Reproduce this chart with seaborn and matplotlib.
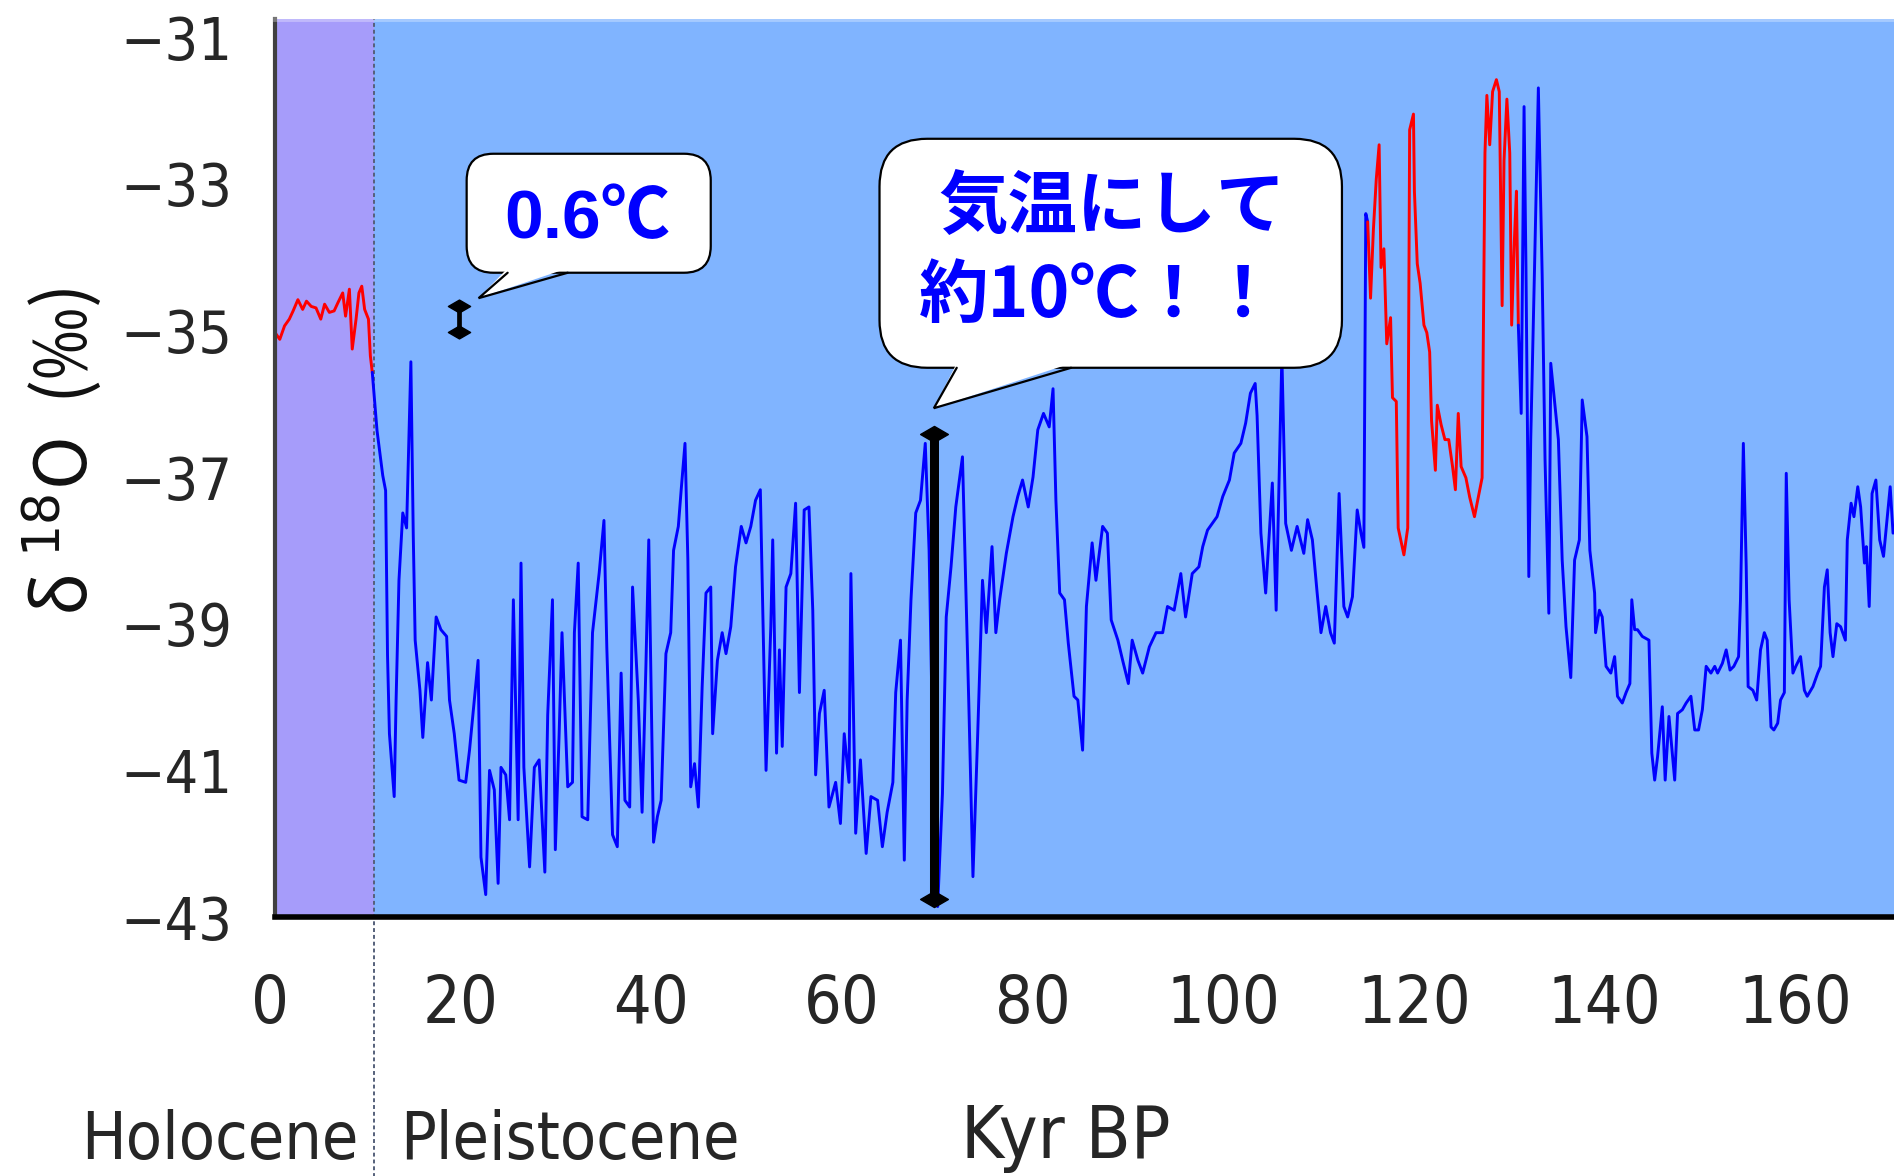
import numpy as np
import pandas as pd
import seaborn as sns
import matplotlib
matplotlib.use("Agg")
import matplotlib.pyplot as plt
import matplotlib.transforms as mtransforms
from matplotlib import font_manager as fm
from matplotlib.patches import FancyBboxPatch, Polygon
from matplotlib.lines import Line2D
from matplotlib.path import Path

# ------------------------------------------------------------------ data
# (age in kyr BP, delta-18O in permil)
holocene = [(0.0, -35.19), (0.5, -35.28), (1.0, -35.10), (1.5, -35.01), (1.9, -34.90),
            (2.4, -34.75), (2.9, -34.88), (3.3, -34.77), (3.8, -34.84), (4.3, -34.86),
            (4.8, -35.01), (5.2, -34.81), (5.7, -34.92), (6.2, -34.90), (6.6, -34.79),
            (7.1, -34.66), (7.4, -34.97), (7.8, -34.61), (8.1, -35.41), (8.5, -35.01),
            (8.8, -34.66), (9.1, -34.57), (9.4, -34.88), (9.8, -35.01), (10.0, -35.50),
            (10.2, -35.72)]

glacial_a = [(10.2, -35.72), (10.7, -36.50), (11.0, -36.80), (11.3, -37.10), (11.6, -37.30),
             (11.8, -39.50), (12.0, -40.55), (12.5, -41.39), (12.7, -40.10), (13.0, -38.50),
             (13.4, -37.60), (13.8, -37.80), (14.25, -35.58), (14.5, -37.90), (14.7, -39.30),
             (15.2, -39.97), (15.5, -40.60), (16.0, -39.60), (16.4, -40.10), (16.9, -38.99),
             (17.4, -39.16), (18.0, -39.25), (18.3, -40.10), (18.8, -40.55), (19.3, -41.17),
             (20.0, -41.20), (20.4, -40.77), (20.9, -40.10), (21.3, -39.57), (21.6, -42.20),
             (22.1, -42.70), (22.5, -41.04), (23.0, -41.30), (23.4, -42.55), (23.7, -41.00),
             (24.2, -41.10), (24.6, -41.70), (25.0, -38.76), (25.5, -41.70), (25.8, -38.27),
             (26.1, -41.00), (26.7, -42.33), (27.2, -41.00), (27.7, -40.90), (28.3, -42.40),
             (28.6, -40.30), (29.1, -38.76), (29.4, -42.10), (29.8, -40.55), (30.1, -39.20),
             (30.7, -41.26), (31.2, -41.20), (31.4, -39.20), (31.8, -38.27), (32.2, -41.66),
             (32.8, -41.70), (33.3, -39.20), (34.0, -38.40), (34.5, -37.70), (34.8, -39.40),
             (35.4, -41.90), (35.9, -42.06), (36.3, -39.74), (36.7, -41.44), (37.2, -41.53),
             (37.5, -38.59), (38.1, -40.10), (38.5, -41.60), (38.9, -39.65), (39.2, -37.96),
             (39.7, -42.00), (40.1, -41.66), (40.5, -41.44), (41.0, -39.48), (41.5, -39.20),
             (41.8, -38.10), (42.3, -37.78), (42.6, -37.29), (43.0, -36.67), (43.3, -38.23),
             (43.6, -41.26), (44.0, -40.95), (44.4, -41.53), (44.8, -39.92), (45.2, -38.67),
             (45.7, -38.59), (45.9, -40.55), (46.4, -39.57), (46.9, -39.20), (47.3, -39.48),
             (47.8, -39.12), (48.3, -38.32), (48.9, -37.78), (49.4, -38.00), (49.9, -37.78),
             (50.4, -37.43), (50.9, -37.29), (51.2, -39.20), (51.5, -41.04), (52.0, -39.12),
             (52.2, -37.96), (52.6, -40.81), (52.9, -39.43), (53.2, -40.72), (53.6, -38.59),
             (54.1, -38.41), (54.6, -37.47), (55.0, -40.00), (55.5, -37.56), (56.0, -37.52),
             (56.4, -38.90), (56.7, -41.10), (57.1, -40.28), (57.6, -39.97), (58.1, -41.53),
             (58.8, -41.20), (59.3, -41.75), (59.7, -40.55), (60.2, -41.20), (60.4, -38.41),
             (60.9, -41.88), (61.4, -40.90), (62.0, -42.15), (62.5, -41.39), (63.2, -41.44),
             (63.7, -42.06), (64.2, -41.60), (64.8, -41.20), (65.1, -40.00), (65.6, -39.30),
             (66.0, -42.24), (66.3, -40.10), (66.7, -38.76), (67.2, -37.60), (67.7, -37.43),
             (68.2, -36.67), (68.6, -38.10), (69.1, -41.50), (69.5, -42.86), (70.0, -41.35),
             (70.4, -38.99), (70.9, -38.32), (71.4, -37.52), (72.1, -36.85), (72.4, -38.32),
             (72.8, -40.32), (73.2, -42.46), (73.7, -40.55), (74.2, -38.50), (74.6, -39.20),
             (75.2, -38.05), (75.6, -39.20), (76.0, -38.76), (76.7, -38.14), (77.4, -37.65),
             (77.9, -37.38), (78.4, -37.16), (79.0, -37.52), (79.5, -37.12), (80.0, -36.49),
             (80.6, -36.27), (81.2, -36.45), (81.6, -35.94), (81.9, -37.43), (82.3, -38.67),
             (82.8, -38.76), (83.2, -39.34), (83.8, -40.05), (84.2, -40.10), (84.7, -40.77),
             (85.1, -38.85), (85.7, -38.00), (86.1, -38.50), (86.8, -37.78), (87.3, -37.87),
             (87.7, -39.03), (88.4, -39.30), (88.9, -39.57), (89.5, -39.88), (89.9, -39.30),
             (90.5, -39.57), (91.0, -39.74), (91.7, -39.39), (92.4, -39.20), (93.1, -39.20),
             (93.6, -38.85), (94.3, -38.90), (95.0, -38.41), (95.5, -38.99), (96.2, -38.41),
             (96.9, -38.32), (97.3, -38.05), (97.8, -37.83), (98.3, -37.74), (98.8, -37.65),
             (99.4, -37.38), (100.1, -37.16), (100.6, -36.80), (101.3, -36.67), (101.8, -36.40),
             (102.3, -36.00), (102.8, -35.87), (103.0, -36.30), (103.4, -37.87), (103.9, -38.67),
             (104.6, -37.20), (105.0, -38.90), (105.6, -35.50), (106.0, -37.74), (106.6, -38.10),
             (107.2, -37.78), (107.9, -38.14), (108.3, -37.69), (108.8, -37.96), (109.3, -38.67),
             (109.7, -39.20), (110.2, -38.85), (110.7, -39.20), (111.1, -39.34), (111.6, -37.34),
             (112.1, -38.85), (112.5, -38.99), (113.0, -38.72), (113.5, -37.56), (113.9, -37.87),
             (114.2, -38.06), (114.4, -33.60), (114.6, -33.71)]

eemian = [(114.6, -33.71), (114.9, -34.73), (115.2, -33.81), (115.5, -33.14), (115.8, -32.68),
          (116.0, -34.32), (116.3, -34.07), (116.6, -35.34), (117.0, -34.99), (117.2, -36.06),
          (117.6, -36.11), (117.8, -37.80), (118.4, -38.16), (118.8, -37.80), (119.0, -32.48),
          (119.4, -32.27), (119.5, -33.30), (119.8, -34.27), (120.1, -34.53), (120.5, -35.09),
          (120.8, -35.19), (121.1, -35.45), (121.3, -36.37), (121.7, -37.03), (121.9, -36.16),
          (122.3, -36.42), (122.7, -36.62), (123.1, -36.62), (123.5, -36.98), (123.8, -37.29),
          (124.1, -36.27), (124.4, -36.98), (124.9, -37.13), (125.3, -37.39), (125.8, -37.65),
          (126.2, -37.39), (126.6, -37.13), (126.9, -32.79), (127.1, -32.02), (127.4, -32.68),
          (127.7, -31.97), (128.1, -31.81), (128.4, -31.97), (128.7, -34.83), (128.9, -32.89),
          (129.2, -32.07), (129.5, -32.79), (129.7, -35.09), (130.0, -33.91), (130.2, -33.30),
          (130.4, -35.09)]

glacial_b = [(130.4, -35.09), (130.7, -36.27), (131.0, -32.17), (131.2, -34.32), (131.5, -38.45),
             (131.7, -36.62), (132.1, -34.32), (132.5, -31.92), (132.9, -34.42), (133.2, -36.88),
             (133.6, -38.94), (133.8, -35.60), (134.2, -36.11), (134.6, -36.62), (135.0, -38.23),
             (135.4, -39.12), (135.9, -39.80), (136.3, -38.23), (136.8, -37.96), (137.1, -36.09),
             (137.6, -36.58), (137.9, -38.10), (138.4, -38.67), (138.5, -39.20), (138.9, -38.90),
             (139.2, -38.99), (139.6, -39.65), (140.1, -39.74), (140.5, -39.52), (140.8, -40.05),
             (141.3, -40.14), (141.7, -40.00), (142.1, -39.88), (142.3, -38.76), (142.6, -39.16),
             (142.9, -39.16), (143.4, -39.25), (144.1, -39.30), (144.4, -40.81), (144.7, -41.17),
             (145.0, -40.86), (145.5, -40.19), (145.8, -41.17), (146.2, -40.32), (146.8, -41.17),
             (147.1, -40.28), (147.6, -40.23), (148.0, -40.14), (148.5, -40.05), (148.9, -40.50),
             (149.3, -40.50), (149.7, -40.23), (150.1, -39.65), (150.6, -39.74), (151.0, -39.65),
             (151.3, -39.74), (151.8, -39.61), (152.2, -39.43), (152.6, -39.70), (153.0, -39.65),
             (153.5, -39.52), (153.7, -38.76), (154.0, -36.67), (154.3, -38.32), (154.5, -39.92),
             (155.0, -39.97), (155.4, -40.10), (155.8, -39.43), (156.2, -39.20), (156.5, -39.30),
             (156.9, -40.46), (157.2, -40.50), (157.6, -40.41), (157.9, -40.10), (158.3, -40.00),
             (158.5, -37.07), (158.8, -38.76), (159.2, -39.74), (159.5, -39.65), (160.0, -39.52),
             (160.4, -39.97), (160.7, -40.05), (161.3, -39.92), (161.8, -39.74), (162.1, -39.65),
             (162.5, -38.59), (162.8, -38.36), (163.1, -39.20), (163.4, -39.52), (163.8, -39.08),
             (164.2, -39.12), (164.7, -39.30), (164.9, -37.96), (165.3, -37.47), (165.6, -37.65),
             (166.0, -37.25), (166.3, -37.52), (166.7, -38.27), (166.9, -38.05), (167.2, -38.85),
             (167.5, -37.34), (167.9, -37.16), (168.3, -37.96), (168.7, -38.18), (169.0, -37.78),
             (169.4, -37.25), (169.7, -37.87)]

segment_colors = {"Holocene": "#FF0000", "Glacial A": "#0000FF",
                  "Eemian": "#FF0000", "Glacial B": "#0000FF"}

x_ticks = [0, 20, 40, 60, 80, 100, 120, 140, 160]
x_tick_labels = ["0", "20", "40", "60", "80", "100", "120", "140", "160"]
y_ticks = [-43, -41, -39, -37, -35, -33, -31]
y_tick_labels = ["\u221243", "\u221241", "\u221239", "\u221237", "\u221235", "\u221233", "\u221231"]

HOLOCENE_END = 10.4          # kyr, Holocene / Pleistocene boundary
X_MAX = 169.8

# annotation geometry (data units)
small_arrow = dict(x=19.25, top=-34.84, bottom=-35.18)
big_arrow = dict(x=69.1, top=-36.54, bottom=-42.76)
small_bubble = dict(x0=20.1, x1=45.7, y0=-34.39, y1=-32.80, r=2.8,
                    base_l=24.4, base_r=30.7, tip=(21.35, -34.73))
big_bubble = dict(x0=63.4, x1=111.9, y0=-35.66, y1=-32.60, r=5.0,
                  base_l=71.5, base_r=83.5, tip=(69.1, -36.20))

# ------------------------------------------------------------------ fonts
sns.set_style("white")
avail = {f.name for f in fm.fontManager.ttflist}
cond_dejavu = any(f.name == "DejaVu Sans" and str(f.stretch) in ("condensed", "semi-condensed")
                  for f in fm.fontManager.ttflist)
if "Liberation Sans Narrow" in avail:
    NARROW = dict(family="Liberation Sans Narrow")
    fs_scale = 1.0
elif cond_dejavu:
    NARROW = dict(family="DejaVu Sans", stretch="condensed")
    fs_scale = 0.85
else:
    NARROW = dict(family="DejaVu Sans")
    fs_scale = 0.75
plt.rcParams["font.family"] = ["DejaVu Sans", "Noto Sans CJK JP"]

# ------------------------------------------------------------------ figure
W, H = 1894, 1176
fig = plt.figure(figsize=(W / 100, H / 100), dpi=100)
ax_rect = [0.1452, 0.2202, 0.8548, 0.7636]
ax = fig.add_axes(ax_rect)

frames = []
for name, seg in [("Holocene", holocene), ("Glacial A", glacial_a),
                  ("Eemian", eemian), ("Glacial B", glacial_b)]:
    d = pd.DataFrame(seg, columns=["kyr", "d18o"])
    d["segment"] = name
    frames.append(d)
df = pd.concat(frames, ignore_index=True)

ax.set_facecolor("#80B4FF")
ax.axvspan(0, HOLOCENE_END, color="#A69CFA", lw=0, zorder=0)

sns.lineplot(data=df, x="kyr", y="d18o", hue="segment", palette=segment_colors,
             estimator=None, sort=False, legend=False, lw=2.1, ax=ax, zorder=2)

ax.set_xlim(0, X_MAX)
ax.set_ylim(-43, -31)
ax.set_xlabel("")
ax.set_ylabel("")

# boundary dashed line, continuing below the axes
blend = mtransforms.blended_transform_factory(ax.transData, ax.transAxes)
ax.add_line(Line2D([HOLOCENE_END, HOLOCENE_END], [-0.30, 1.0], transform=blend,
                   color="#55607a", lw=1.4, ls=(0, (2, 1.5)), clip_on=False, zorder=1.5))

# spines
ax.spines["right"].set_visible(False)
ax.spines["top"].set_color((1, 1, 1, 0.3))
ax.spines["top"].set_linewidth(3.5)
ax.spines["left"].set_color("#404040")
ax.spines["left"].set_linewidth(3.0)
ax.spines["bottom"].set_color("black")
ax.spines["bottom"].set_linewidth(4.0)
ax.spines["bottom"].set_zorder(6)

ax.set_xticks(x_ticks, x_tick_labels, fontsize=56 * fs_scale, **NARROW)
ax.set_yticks(y_ticks, y_tick_labels, fontsize=50 * fs_scale, **NARROW)
ax.tick_params(axis="x", direction="in", length=14, width=2.2, color="#1f2f4f", pad=40)
ax.tick_params(axis="y", direction="in", length=13.5, width=2.8, color="#2b2b45", pad=31)
ax.grid(False)

# the reference tick labels sit slightly below their ticks, more so toward the top
for val, lab in zip(y_ticks, ax.get_yticklabels()):
    dy = -(val + 43) / 12.0 * 18.0 / 100.0
    lab.set_transform(lab.get_transform() + mtransforms.ScaledTranslation(0, dy, fig.dpi_scale_trans))
for lab in ax.get_xticklabels():
    lab.set_transform(lab.get_transform() + mtransforms.ScaledTranslation(-0.05, 0, fig.dpi_scale_trans))

# y axis title
fig.text(0.033, 0.6156, "\u03b4 $^{18}$O  (\u2030)", rotation=90, ha="center", va="center",
         fontsize=52, family=["Noto Sans CJK JP", "DejaVu Sans"], color="#111111")

# bottom labels
fig.text(0.1163, 0.0145, "Holocene", ha="center", va="baseline", fontsize=56 * fs_scale, **NARROW)
fig.text(0.3007, 0.0145, "Pleistocene", ha="center", va="baseline", fontsize=56 * fs_scale, **NARROW)
fig.text(0.5627, 0.0150, "Kyr BP", ha="center", va="baseline", fontsize=62 * fs_scale, **NARROW)

# ------------------------------------------------------------------ annotations
diamond = Path([(-1, 0), (0, 0.58), (1, 0), (0, -0.58), (-1, 0)],
               [Path.MOVETO, Path.LINETO, Path.LINETO, Path.LINETO, Path.CLOSEPOLY])

def draw_arrow(a, lw, ms):
    ax.plot([a["x"], a["x"]], [a["top"], a["bottom"]], color="black", lw=lw,
            solid_capstyle="butt", zorder=3)
    ax.plot([a["x"], a["x"]], [a["top"], a["bottom"]], ls="none", marker=diamond,
            ms=ms, color="black", mec="black", zorder=3)

draw_arrow(small_arrow, 3.4, 16)
draw_arrow(big_arrow, 6.5, 20)

ax_w_px = ax_rect[2] * W
ax_h_px = ax_rect[3] * H
aspect = (12.0 / ax_h_px) / (X_MAX / ax_w_px)

def draw_bubble(b):
    box = FancyBboxPatch((b["x0"], b["y0"]), b["x1"] - b["x0"], b["y1"] - b["y0"],
                         boxstyle=f"round,pad=0,rounding_size={b['r']}",
                         mutation_aspect=aspect, fc="white", ec="black", lw=1.6, zorder=4)
    ax.add_patch(box)
    eps = 0.06
    tail = Polygon([(b["base_l"], b["y0"] + eps), b["tip"], (b["base_r"], b["y0"] + eps)],
                   closed=True, fc="white", ec="none", zorder=4.5)
    ax.add_patch(tail)
    ax.add_line(Line2D([b["base_l"], b["tip"][0], b["base_r"]],
                       [b["y0"], b["tip"][1], b["y0"]], color="black", lw=1.6,
                       solid_joinstyle="miter", zorder=4.6))

draw_bubble(small_bubble)
draw_bubble(big_bubble)

ax.text(32.8, -33.68, "0.6\u2103", ha="center", va="center", color="#0000FF",
        fontsize=50, fontweight="bold", family=["Liberation Sans", "Noto Sans CJK JP"], zorder=5)
ax.text(87.8, -33.52, "気温にして", ha="center", va="center", color="#0000FF",
        fontsize=50, fontweight="bold", family=["Noto Sans CJK JP", "DejaVu Sans"], zorder=5)
ax.text(86.4, -34.71, "約10\u2103！！", ha="center", va="center", color="#0000FF",
        fontsize=50, fontweight="bold", family=["Noto Sans CJK JP", "DejaVu Sans"], zorder=5)

fig.savefig("out.png", dpi=100)
